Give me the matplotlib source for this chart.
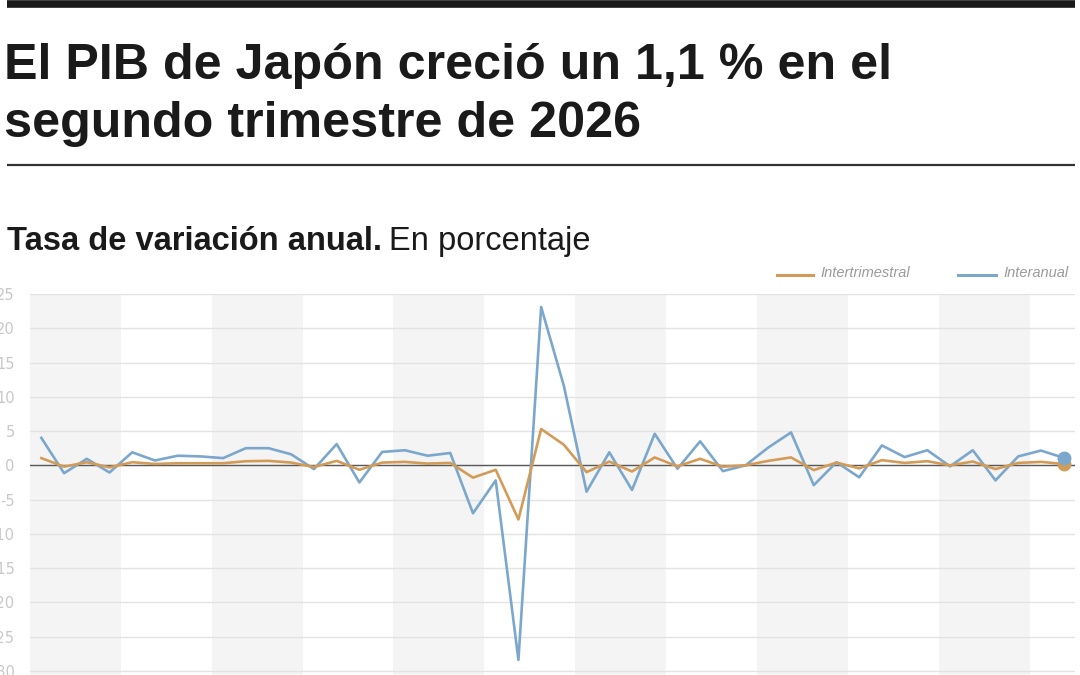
import matplotlib
matplotlib.use("Agg")
import matplotlib.pyplot as plt
from matplotlib.lines import Line2D
import numpy as np

# datos (trimestres 2015 T1 - 2026 T2)
years = [2015, 2016, 2017, 2018, 2019, 2020, 2021, 2022, 2023, 2024, 2025, 2026]
interanual = [4.0, -1.15, 0.95, -1.05, 1.9, 0.7, 1.4, 1.3, 1.05, 2.5, 2.5, 1.6,
              -0.55, 3.1, -2.5, 1.95, 2.2, 1.4, 1.8, -7.0, -2.2, -28.4, 23.1, 11.6,
              -3.85, 1.9, -3.6, 4.6, -0.5, 3.5, -0.85, 0.0, 2.6, 4.8, -2.9, 0.45,
              -1.75, 2.9, 1.2, 2.2, -0.15, 2.2, -2.2, 1.3, 2.15, 1.1]
intertrimestral = [1.05, -0.2, 0.45, -0.3, 0.45, 0.2, 0.3, 0.3, 0.3, 0.6, 0.65, 0.4,
                   -0.25, 0.65, -0.65, 0.4, 0.5, 0.25, 0.35, -1.8, -0.65, -7.9, 5.3, 3.0,
                   -1.0, 0.55, -0.9, 1.15, -0.15, 0.95, -0.2, 0.0, 0.65, 1.15, -0.7, 0.4,
                   -0.45, 0.75, 0.35, 0.6, 0.0, 0.55, -0.55, 0.35, 0.5, 0.2]
yticks = [-30, -25, -20, -15, -10, -5, 0, 5, 10, 15, 20, 25]

BLUE = "#7ca7cc"
ORANGE = "#d29c58"
W, H = 1080, 675

def px(x, y):
    return x / W, 1 - y / H

fig = plt.figure(figsize=(10.8, 6.75), dpi=100)
fig.patch.set_facecolor("white")

# barra superior y separador
fig.add_artist(Line2D([px(7, 0)[0], px(1075, 0)[0]], [px(0, 3.5)[1]] * 2,
                      color="#1a1a1a", lw=5.5, solid_capstyle="butt"))
fig.add_artist(Line2D([px(7, 0)[0], px(1075, 0)[0]], [px(0, 165)[1]] * 2,
                      color="#333333", lw=1.6, solid_capstyle="butt"))

fam = ["Liberation Sans", "DejaVu Sans"]
fig.text(*px(4, 79), "El PIB de Japón creció un 1,1 % en el", fontsize=36.2,
         fontweight="bold", family=fam, color="#1a1a1a", va="baseline")
fig.text(*px(4, 137), "segundo trimestre de 2026", fontsize=36.2,
         fontweight="bold", family=fam, color="#1a1a1a", va="baseline")

t1 = fig.text(*px(7, 250), "Tasa de variación anual.", fontsize=23.5,
              fontweight="bold", family=fam, color="#1a1a1a", va="baseline")
fig.canvas.draw()
bb = t1.get_window_extent()
fig.text(bb.x1 / W + 7 / W, px(0, 250)[1], "En porcentaje", fontsize=23.5,
         family=fam, color="#1a1a1a", va="baseline")

# leyenda
fig.add_artist(Line2D([px(777, 0)[0], px(813, 0)[0]], [px(0, 275)[1]] * 2,
                      color=ORANGE, lw=2.2))
fig.text(*px(820, 277), "Intertrimestral", fontsize=10.5, style="italic",
         family=fam, color="#9a9a9a", va="baseline")
fig.add_artist(Line2D([px(958, 0)[0], px(996, 0)[0]], [px(0, 275)[1]] * 2,
                      color=BLUE, lw=2.2))
fig.text(*px(1003, 277), "Interanual", fontsize=10.5, style="italic",
         family=fam, color="#9a9a9a", va="baseline")

ax = fig.add_axes([30 / W, 0, 1045 / W, (675 - 294) / H])
x = np.arange(len(interanual))

# bandas de años alternas
for i, yr in enumerate(years):
    if i % 2 == 0:
        ax.axvspan(4 * i - 0.5, 4 * i + 3.5, color="#f4f4f4", lw=0, zorder=0)

for t in yticks:
    ax.axhline(t, color="#e3e3e3", lw=1, zorder=1)
ax.axhline(0, color="#5a5a5a", lw=1, zorder=2)

ax.plot(x, interanual, color=BLUE, lw=1.9, zorder=3)
ax.plot(x, intertrimestral, color=ORANGE, lw=1.9, zorder=4)
ax.plot(x[-1], intertrimestral[-1], "o", color=ORANGE, ms=9, zorder=5)
ax.plot(x[-1], interanual[-1], "o", color=BLUE, ms=9, zorder=6)

ax.set_xlim(-0.5, len(interanual) - 0.5)
ax.set_ylim(-30.6, 25)
ax.set_yticks(yticks)
ax.set_yticklabels([str(t) for t in yticks])
ax.tick_params(axis="y", length=0, pad=11, labelsize=10.5, labelcolor="#c8c8c8")
ax.set_xticks([])
for s in ax.spines.values():
    s.set_visible(False)
ax.set_facecolor("white")

fig.savefig("out.png", dpi=100)
